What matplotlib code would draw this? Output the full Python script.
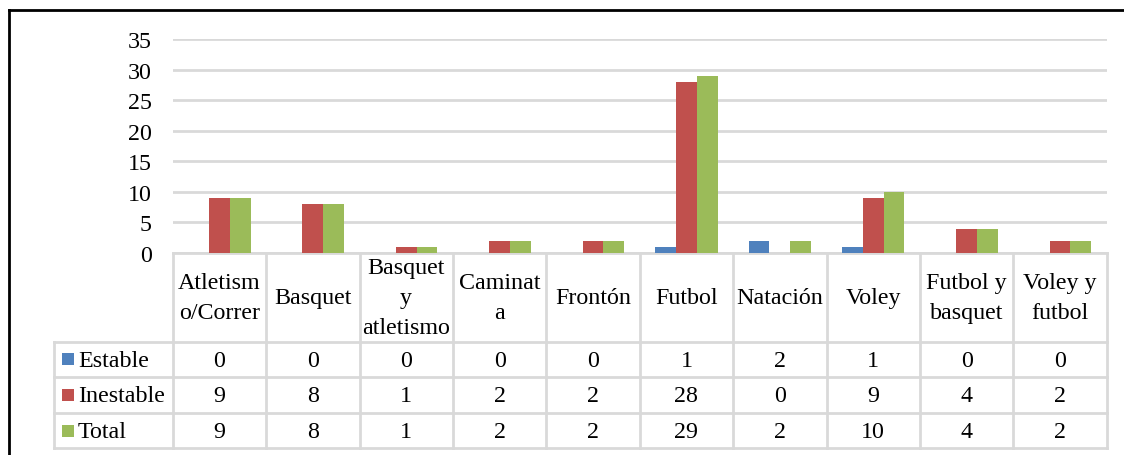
import matplotlib
matplotlib.use("Agg")
import matplotlib.pyplot as plt
import numpy as np

categories = ["Atletism\no/Correr", "Basquet", "Basquet\ny\natletismo", "Caminat\na",
              "Frontón", "Futbol", "Natación", "Voley", "Futbol y\nbasquet", "Voley y\nfutbol"]
series_names = ["Estable", "Inestable", "Total"]
estable = [0, 0, 0, 0, 0, 1, 2, 1, 0, 0]
inestable = [9, 8, 1, 2, 2, 28, 0, 9, 4, 2]
total = [9, 8, 1, 2, 2, 29, 2, 10, 4, 2]
y_ticks = [0, 5, 10, 15, 20, 25, 30, 35]
colors = ["#4F81BD", "#C0504D", "#9BBB59"]

W, H = 1124, 456
FONT = "Liberation Serif"
FS = 17.3
GRID = "#D9D9D9"

fig = plt.figure(figsize=(W / 100, H / 100), dpi=100)
fig.patch.set_facecolor("white")

# pixel geometry
x0, x1 = 172.7, 1106.7
y_top, y_zero = 40.3, 254.0

ax = fig.add_axes([x0 / W, (H - y_zero) / H, (x1 - x0) / W, (y_zero - y_top) / H])
n = len(categories)
x = np.arange(n)
bw = 1 / 4.5
data = [estable, inestable, total]
for i, (vals, c) in enumerate(zip(data, colors)):
    ax.bar(x + (i - 1) * bw, vals, width=bw, color=c, zorder=3, linewidth=0)
ax.set_xlim(-0.5, n - 0.5)
ax.set_ylim(0, 35)
ax.set_yticks(y_ticks)
ax.set_yticklabels([str(t) for t in y_ticks], fontsize=FS, family=FONT)
ax.tick_params(axis="y", length=0, pad=15)
ax.set_xticks([])
ax.grid(axis="y", color=GRID, linewidth=2, zorder=0)
for s in ax.spines.values():
    s.set_visible(False)
ax.set_facecolor("none")

# overlay axes in pixel coords for table and border
ov = fig.add_axes([0, 0, 1, 1], zorder=-1)
ov.set_xlim(0, W)
ov.set_ylim(H, 0)
ov.axis("off")

# outer border
ov.plot([8.5, 8.5], [11, H], color="black", lw=2)
ov.plot([8.5, W], [11, 11], color="black", lw=2)

col_edges = np.linspace(x0, x1, n + 1)
row_edges = [254.0, 342.5, 378.0, 414.0, 449.5]
label_left = 54.0

# horizontal lines
ov.plot([x0, x1], [row_edges[0], row_edges[0]], color=GRID, lw=2)
for yy in row_edges[1:]:
    ov.plot([label_left, x1], [yy, yy], color=GRID, lw=2)
# vertical lines
for xx in col_edges:
    ov.plot([xx, xx], [row_edges[0], row_edges[-1]], color=GRID, lw=2)
ov.plot([label_left, label_left], [row_edges[1], row_edges[-1]], color=GRID, lw=2)

# header text
for j, cat in enumerate(categories):
    cx = (col_edges[j] + col_edges[j + 1]) / 2
    cy = (row_edges[0] + row_edges[1]) / 2
    ov.text(cx, cy, cat, ha="center", va="center", fontsize=FS, family=FONT,
            linespacing=1.55, multialignment="center")

# data rows
for r, (name, vals, c) in enumerate(zip(series_names, data, colors)):
    cy = (row_edges[r + 1] + row_edges[r + 2]) / 2
    ov.add_patch(plt.Rectangle((62, cy - 6), 12, 12, color=c, lw=0))
    ov.text(78, cy + 1, name, ha="left", va="center", fontsize=FS, family=FONT)
    for j, v in enumerate(vals):
        cx = (col_edges[j] + col_edges[j + 1]) / 2
        ov.text(cx, cy + 1, str(v), ha="center", va="center", fontsize=FS, family=FONT)

fig.savefig("out.png", dpi=100)
